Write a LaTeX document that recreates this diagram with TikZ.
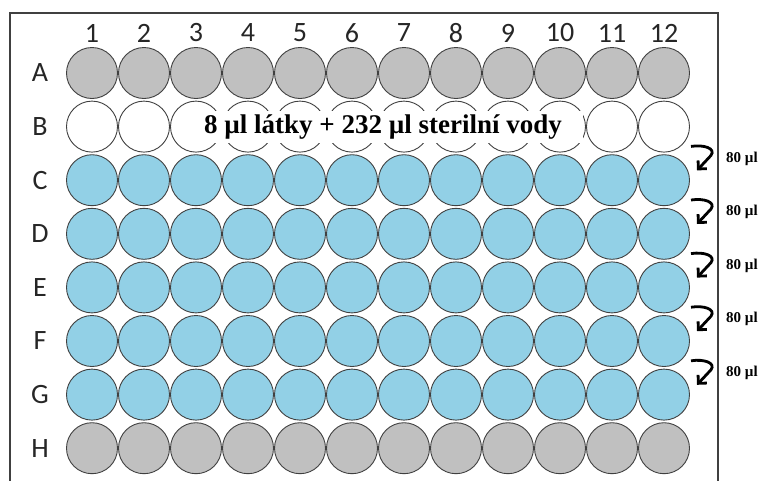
\documentclass[tikz,border=0pt]{standalone}
\usepackage{fontspec}
\setmainfont{Liberation Serif}
\newfontfamily\platefont{Carlito}
\usetikzlibrary{arrows.meta}

\definecolor{wellblue}{RGB}{146,208,230}
\definecolor{wellgray}{RGB}{192,192,192}
\definecolor{wellline}{RGB}{64,64,64}

\begin{document}
\begin{tikzpicture}[
    x=1pt, y=-1pt,
    well/.style    = {circle, draw=wellline, line width=0.9pt, minimum size=51pt,
                      inner sep=0pt, fill=#1},
    axislbl/.style = {font=\platefont\fontsize{28}{28}\selectfont, text=black!85},
    mixlbl/.style  = {fill=white, minimum width=400pt, minimum height=32pt, inner sep=0pt,
                      font=\bfseries\fontsize{27}{27}\selectfont},
    dose/.style    = {font=\bfseries\fontsize{15}{15}\selectfont},
    transfer/.style= {line width=2.8pt, -{Straight Barb[length=6pt, width=12pt]}},
    plate/.style   = {draw=wellline, line width=1.3pt},
]
\useasboundingbox (0,0) rectangle (766,480);

%% Plate outline (open at the bottom)
\coordinate (pbl) at (10,482);
\coordinate (ptl) at (10,13);
\coordinate (ptr) at (718,13);
\coordinate (pbr) at (718,482);
\draw[plate] (pbl) -- (ptl) -- (ptr) -- (pbr);

%% Column numbers
\foreach \c in {1,...,12}
  \node[axislbl] (col\c) at ({92+52*(\c-1)},33) {\c};

%% Rows of wells
\foreach \r/\f [count=\i] in {A/wellgray, B/white, C/wellblue, D/wellblue,
                              E/wellblue, F/wellblue, G/wellblue, H/wellgray} {
  \node[axislbl] (row\r) at (40,{73+53.6*(\i-1)}) {\r};
  \foreach \c in {1,...,12}
    \node[well=\f] (w\r\c) at ({92+52*(\c-1)},{73+53.6*(\i-1)}) {};
}

%% Mixture in row B
\node[mixlbl] (mix) at (383,127) {8 µl látky + 232 µl sterilní vody};

%% Serial transfer, 80 ul down each row
\foreach \k in {1,...,5} {
  \pgfmathsetmacro{\m}{153.4+53.6*(\k-1)}
  \coordinate (src\k)  at (691,\m-7);
  \coordinate (bend\k) at (711,\m+2);
  \coordinate (tip\k)  at (697,\m+17);
  \draw[transfer] (src\k) .. controls (704,\m-9) and (716,\m-5) .. (bend\k) -- (tip\k);
  \node[dose] (vol\k) at (742,\m+5) {80 µl};
}

\end{tikzpicture}
\end{document}
